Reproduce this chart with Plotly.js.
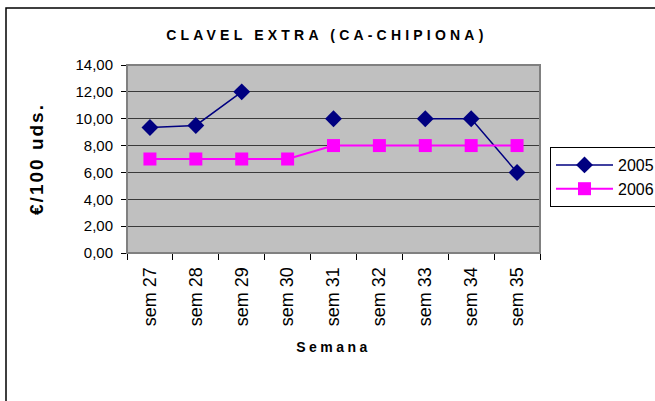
<!DOCTYPE html>
<html>
<head>
<meta charset="utf-8">
<script src="https://cdn.plot.ly/plotly-3.0.1.min.js"></script>
<style>
html,body{margin:0;padding:0;background:#fff;}
#chart{width:655px;height:401px;}
.gtitle{letter-spacing:4.2px;}
.xtitle{letter-spacing:3.5px;}
.ytitle{letter-spacing:2px;}
</style>
</head>
<body>
<div id="chart"></div>
<script>
const categories = ['sem 27','sem 28','sem 29','sem 30','sem 31','sem 32','sem 33','sem 34','sem 35'];
const values2005 = [9.35, 9.5, 12, null, 10, null, 10, 10, 6];
const values2006 = [7, 7, 7, 7, 8, 8, 8, 8, 8];
const seriesNames = ['2005', '2006'];
const yTicks = [0, 2, 4, 6, 8, 10, 12, 14];

const traces = [
  {
    x: categories, y: values2005, name: seriesNames[0], type: 'scatter', mode: 'lines+markers',
    line: {color: '#000080', width: 1.5},
    marker: {symbol: 'diamond', size: 13, color: '#000080'},
    connectgaps: false
  },
  {
    x: categories, y: values2006, name: seriesNames[1], type: 'scatter', mode: 'lines+markers',
    line: {color: '#FF00FF', width: 2},
    marker: {symbol: 'square', size: 13, color: '#FF00FF'}
  }
];

const PW = 413, PH = 188;
const layout = {
  width: 655, height: 401,
  margin: {l: 127, r: 115, t: 65, b: 148, pad: 0, autoexpand: false},
  paper_bgcolor: '#ffffff',
  plot_bgcolor: '#C0C0C0',
  separators: ',.',
  font: {family: 'Liberation Sans, Arial, sans-serif', color: '#000'},
  title: {
    text: 'CLAVEL EXTRA (CA-CHIPIONA)',
    font: {size: 14, family: 'Liberation Sans, Arial, sans-serif', weight: 'bold', color: '#000'},
    x: 0.484, xref: 'paper', xanchor: 'center', y: 0.912, yref: 'container', yanchor: 'middle'
  },
  xaxis: {
    type: 'category',
    tickson: 'boundaries',
    ticks: 'outside', ticklen: 6, tickcolor: '#000', tickwidth: 1,
    tickangle: -90,
    tickfont: {size: 18, color: '#000'},
    ticklabelstandoff: 6,
    showline: true, linecolor: '#000', linewidth: 1,
    showgrid: false, zeroline: false,
    range: [-0.5, 8.5],
    title: {text: 'Semana', font: {size: 14, weight: 'bold', color: '#000'}, standoff: 16}
  },
  yaxis: {
    range: [0, 14],
    tickvals: yTicks,
    tickformat: '.2f',
    ticks: 'outside', ticklen: 5, tickcolor: '#000', tickwidth: 1,
    tickfont: {size: 15, color: '#000'},
    ticklabelstandoff: 5,
    showline: true, linecolor: '#000', linewidth: 1,
    showgrid: true, gridcolor: '#3a3a3a', gridwidth: 1,
    zeroline: false,
    title: {text: '€/100 uds.', font: {size: 19, weight: 'bold', color: '#000'}, standoff: 26}
  },
  showlegend: true,
  legend: {
    xref: 'container', yref: 'container',
    x: 550 / 655, xanchor: 'left', y: (401 - 147) / 401, yanchor: 'top',
    bordercolor: '#000', borderwidth: 1, bgcolor: '#fff',
    font: {size: 16, color: '#000'},
    tracegroupgap: 0, itemwidth: 57
  },
  shapes: [
    {type: 'rect', xref: 'paper', yref: 'paper', x0: 0, x1: 1, y0: 0, y1: 1,
     line: {color: '#808080', width: 2}, fillcolor: 'rgba(0,0,0,0)', layer: 'above'},
    {type: 'rect', xref: 'paper', yref: 'paper',
     x0: (6 - 127) / PW, x1: (700 - 127) / PW, y0: -200 / PH, y1: (253 - 8) / PH,
     line: {color: '#000', width: 1.5}, fillcolor: 'rgba(0,0,0,0)', layer: 'above'}
  ]
};

Plotly.newPlot('chart', traces, layout, {displayModeBar: false, staticPlot: true});
</script>
</body>
</html>
